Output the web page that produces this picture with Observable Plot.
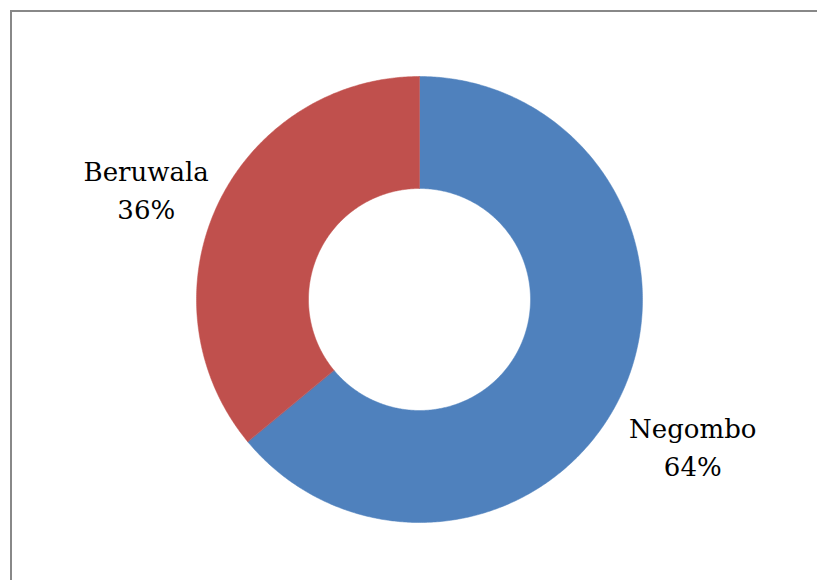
<!DOCTYPE html>
<html>
<head>
<meta charset="utf-8">
<script src="https://cdn.jsdelivr.net/npm/d3@7"></script>
<script src="https://cdn.jsdelivr.net/npm/@observablehq/plot@0.6"></script>
<style>
  body { margin: 0; background: #fff; }
  #wrap { position: relative; width: 817px; height: 580px; overflow: hidden; }
  #chart { position: absolute; left: 0; top: 0; }
  #border { position: absolute; left: 10px; top: 10px; width: 900px; height: 700px;
            border: 2px solid #888; pointer-events: none; box-sizing: border-box; }
</style>
</head>
<body>
<div id="wrap"><div id="chart"></div><div id="border"></div></div>
<script>
const categories = ["Negombo", "Beruwala"];
const shares = [64, 36];
const colors = ["#4F81BD", "#C0504D"];

// geometry (pixels)
const OUTER = 223, INNER = 111, LABEL_R = 302, LABEL_DY = 17;

const pie = d3.pie().sort(null).value(d => d.value)(
  categories.map((name, i) => ({name, value: shares[i]}))
);

// build polygon outlines in a pixel-like coordinate system centred on the donut
const pts = [];
for (const s of pie) {
  const a0 = s.startAngle, a1 = s.endAngle;
  const n = Math.max(2, Math.ceil((a1 - a0) / (Math.PI / 360)));
  for (let i = 0; i <= n; i++) {
    const a = a0 + (a1 - a0) * i / n;
    pts.push({name: s.data.name, x: OUTER * Math.sin(a), y: -OUTER * Math.cos(a)});
  }
  for (let i = n; i >= 0; i--) {
    const a = a0 + (a1 - a0) * i / n;
    pts.push({name: s.data.name, x: INNER * Math.sin(a), y: -INNER * Math.cos(a)});
  }
}

const labels = pie.map(s => {
  const a = (s.startAngle + s.endAngle) / 2;
  return {
    name: s.data.name,
    text: `${s.data.name}\n${s.data.value}%`,
    x: LABEL_R * Math.sin(a),
    y: -LABEL_R * Math.cos(a) + LABEL_DY
  };
});

const chart = Plot.plot({
  width: 817,
  height: 580,
  margin: 0,
  x: {type: "linear", domain: [-419, 398], range: [0, 817], axis: null},
  y: {type: "linear", domain: [-299, 281], range: [0, 580], axis: null},
  color: {domain: categories, range: colors},
  marks: [
    Plot.line(pts, {x: "x", y: "y", z: "name", fill: "name", stroke: "name", strokeWidth: 0.5, curve: "linear-closed"}),
    Plot.text(labels, {x: "x", y: "y", text: "text", fontSize: 26, lineHeight: 1.45,
      fontFamily: "DejaVu Serif", fill: "#000", textAnchor: "middle", lineAnchor: "middle"})
  ]
});
document.getElementById("chart").appendChild(chart);
</script>
</body>
</html>
